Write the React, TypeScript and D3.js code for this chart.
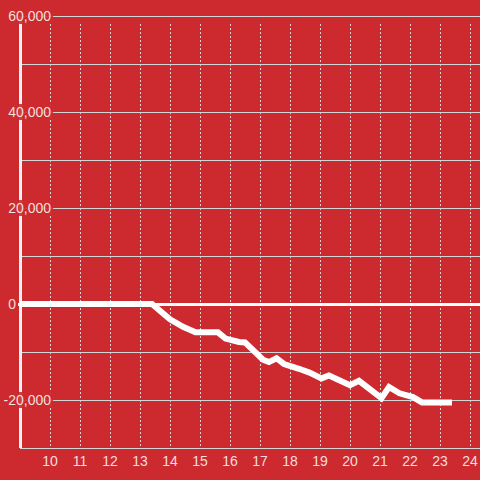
import React from "react";
import * as d3 from "d3";

const times = [9, 13.4, 14.0, 14.45, 14.85, 15.6, 15.85, 16.3, 16.5, 17.1, 17.3, 17.55, 17.8, 18.3, 18.65, 19.05, 19.3, 20.0, 20.3, 21.05, 21.3, 21.65, 22.1, 22.4, 23.4];
const values = [0, 0, -3200, -4800, -5900, -5900, -7200, -7900, -8000, -11600, -12100, -11300, -12500, -13500, -14300, -15500, -14900, -16900, -16000, -19600, -17300, -18600, -19400, -20500, -20500];
const xTicks = [10, 11, 12, 13, 14, 15, 16, 17, 18, 19, 20, 21, 22, 23, 24];
const yGrid = [60000, 50000, 40000, 30000, 20000, 10000, 0, -10000, -20000, -30000];
const yLabels = [60000, 40000, 20000, 0, -20000];

const W = 480, H = 480;
const BG = "#cd2a2f";
const TEXT = "#f4dede";
const GRID = "#d3d6d6";
const FONT = "'Liberation Sans', Arial, sans-serif";

function textWidth(s: string, size: number) {
  const c = document.createElement("canvas").getContext("2d");
  if (!c) return s.length * size * 0.55;
  c.font = `${size}px ${FONT}`;
  return c.measureText(s).width;
}

export default function App() {
  const x = d3.scaleLinear().domain([9, 24]).range([20, 470]);
  const y = d3.scaleLinear().domain([-30000, 60000]).range([448, 16]);
  const fmt = d3.format(",");
  const data = times.map((t, i) => [t, values[i]] as [number, number]);
  const line = d3.line<[number, number]>().x(d => x(d[0])).y(d => y(d[1]));

  return (
    <div style={{ position: "fixed", left: 0, top: 0, width: W, height: H }}>
      <svg width={W} height={H} style={{ display: "block" }}>
        <rect x={0} y={0} width={W} height={H} fill={BG} />
        {yGrid.filter(v => v !== 0).map(v => (
          <line key={"h" + v} x1={x(9)} x2={W} y1={y(v) + 0.5} y2={y(v) + 0.5} stroke={GRID} strokeWidth={1} />
        ))}
        {xTicks.map(t => (
          <line key={"v" + t} x1={x(t) + 0.5} x2={x(t) + 0.5} y1={24} y2={446} stroke={GRID} strokeWidth={1} strokeDasharray="2,2" />
        ))}
        <line x1={x(9) + 0.5} x2={x(9) + 0.5} y1={y(60000)} y2={y(-30000)} stroke="#f2f2f2" strokeWidth={3} />
        <line x1={x(9) - 2} x2={W} y1={y(0) + 0.5} y2={y(0) + 0.5} stroke="#ffffff" strokeWidth={3} />
        <path d={line(data) || ""} fill="none" stroke="#ffffff" strokeWidth={6} strokeLinejoin="miter" strokeLinecap="butt" />
        {yLabels.map(v => {
          const s = fmt(v).replace("−", "-");
          const w = textWidth(s, 14);
          const cy = y(v);
          const right = v === 0 ? 16 : 51;
          return (
            <g key={"yl" + v}>
              {v !== 0 && <rect x={right - w - 2} y={cy - 8} width={w + 4} height={16} fill={BG} fillOpacity={0.9} />}
              <text x={right} y={cy + 5} textAnchor="end" fontSize={14} fill={TEXT} fontFamily={FONT}>{s}</text>
            </g>
          );
        })}
        {xTicks.map(t => (
          <text key={"xl" + t} x={x(t)} y={466} textAnchor="middle" fontSize={14} fill={TEXT} fontFamily={FONT}>{t}</text>
        ))}
      </svg>
    </div>
  );
}
